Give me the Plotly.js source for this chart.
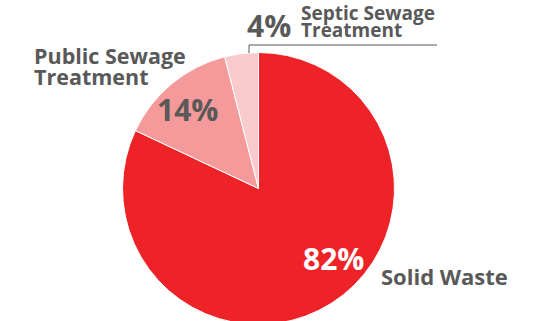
<!DOCTYPE html>
<html>
<head>
<meta charset="utf-8">
<script src="https://cdn.plot.ly/plotly-3.0.1.min.js"></script>
<style>
html,body{margin:0;padding:0;overflow:hidden;background:#fff;width:546px;height:321px;}
#chart{width:546px;height:330px;}
</style>
</head>
<body>
<div id="chart"></div>
<script>
var categories = ["Solid Waste", "Public Sewage Treatment", "Septic Sewage Treatment"];
var values = [82, 14, 4];
var sliceColors = ["#EE2328", "#F49A9B", "#F9CBCC"];

var W = 546, H = 330;
function px(x){ return x / W; }
function py(y){ return 1 - y / H; }

var total = values.reduce(function(a,b){return a+b;}, 0);
function pct(i){ return Math.round(values[i] / total * 100) + "%"; }

var grey = "#595959";
var FONT = "Open Sans";

function ann(text, x, y, size, color, xanchor){
  return {
    text: "<b>" + text + "</b>", x: px(x), y: py(y), xref: "paper", yref: "paper",
    showarrow: false, xanchor: xanchor || "left", yanchor: "middle",
    font: {family: FONT, size: size, color: color}
  };
}

var trace = {
  type: "pie",
  labels: categories,
  values: values,
  sort: false,
  direction: "clockwise",
  rotation: 0,
  textinfo: "none",
  hoverinfo: "none",
  marker: {colors: sliceColors, line: {color: "#ffffff", width: 1}},
  domain: {x: [px(122.5), px(394.5)], y: [py(324.5), py(52.5)]}
};

var layout = {
  width: W, height: H,
  margin: {l: 0, r: 0, t: 0, b: 0},
  paper_bgcolor: "#ffffff",
  showlegend: false,
  annotations: [
    ann(pct(0), 333, 258, 30, "#ffffff", "center"),
    ann(categories[0], 379, 276, 22, grey),
    ann(pct(1), 187, 109, 30, grey, "center"),
    ann("Public Sewage", 32, 56, 21.5, grey),
    ann("Treatment", 32, 76, 21.5, grey),
    ann(pct(2), 269, 26, 30, grey, "center"),
    ann("Septic Sewage", 299, 13, 19, grey),
    ann("Treatment", 299, 30, 19, grey)
  ],
  shapes: [{
    type: "path", xref: "paper", yref: "paper",
    path: "M " + px(249) + "," + py(53) + " L " + px(249) + "," + py(45) + " L " + px(437) + "," + py(45),
    line: {color: grey, width: 1}
  }]
};

Plotly.newPlot("chart", [trace], layout, {displayModeBar: false, staticPlot: true});
</script>
</body>
</html>
